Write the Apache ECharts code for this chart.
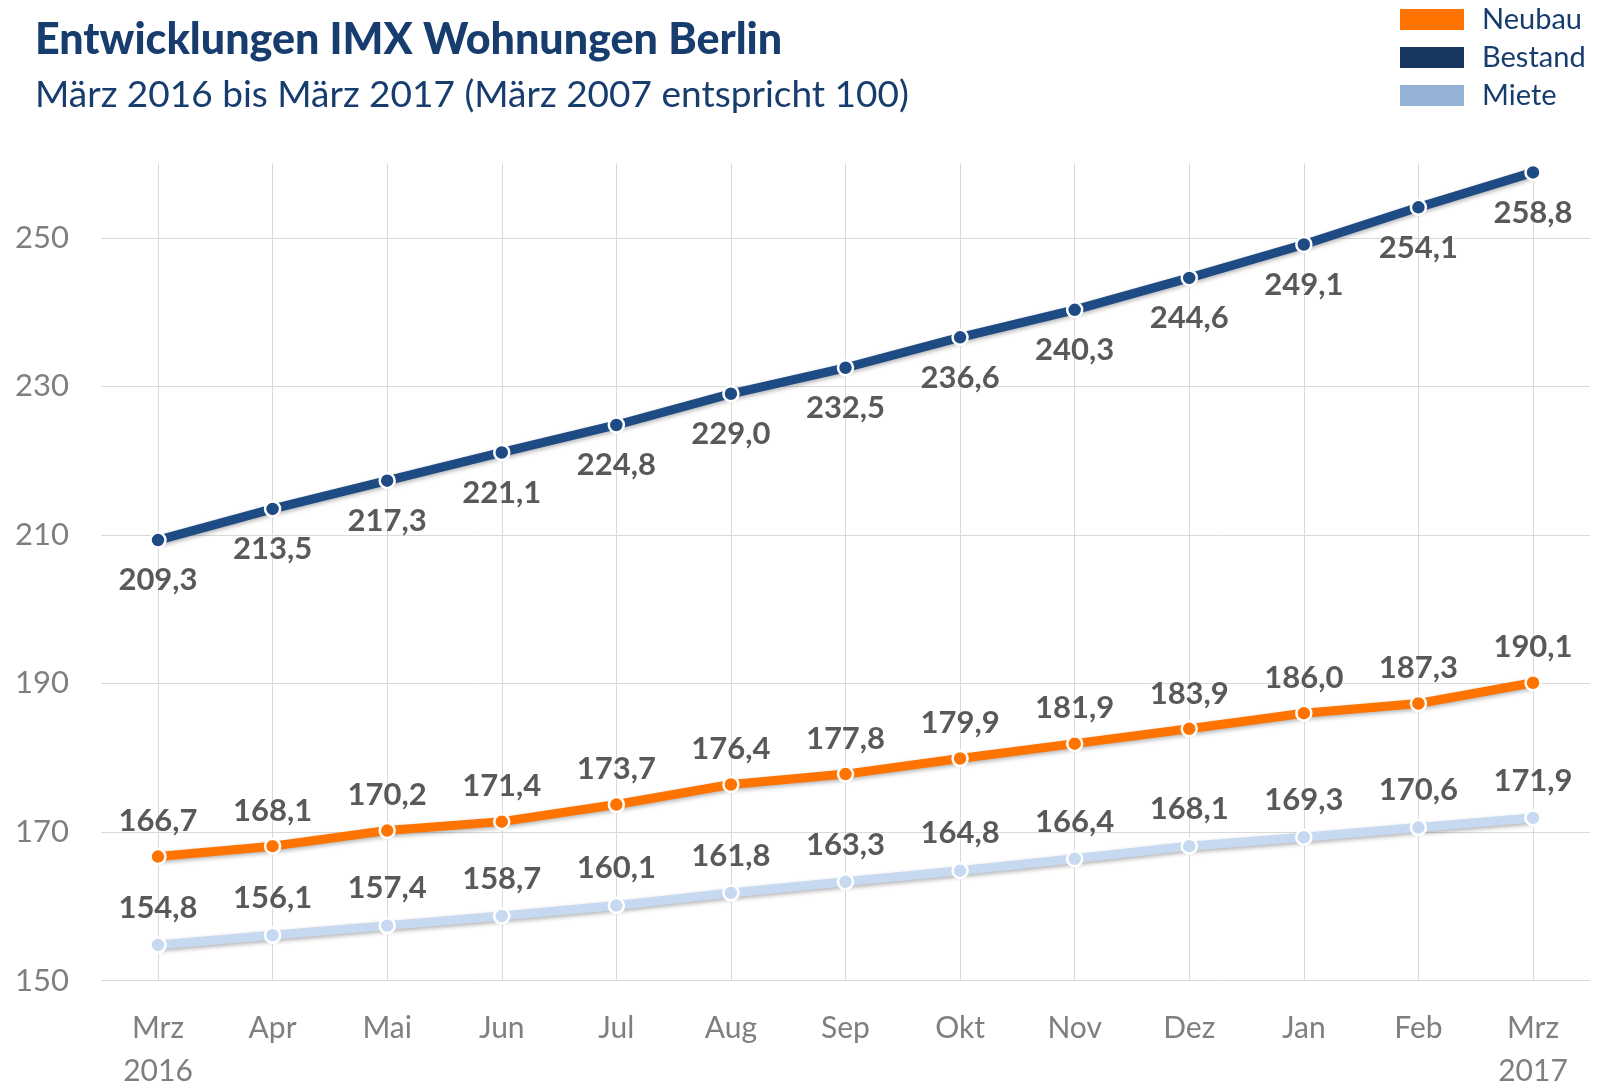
<!DOCTYPE html>
<html>
<head>
<meta charset="utf-8">
<script src="https://cdn.jsdelivr.net/npm/echarts@6/dist/echarts.min.js"></script>
<style>
  html, body { margin: 0; padding: 0; background: #fff; }
  #chart { width: 1600px; height: 1086px; }
</style>
</head>
<body>
<div id="chart"></div>
<script>
var months = ["Mrz\n2016", "Apr", "Mai", "Jun", "Jul", "Aug", "Sep", "Okt", "Nov", "Dez", "Jan", "Feb", "Mrz\n2017"];
var neubau = [166.7, 168.1, 170.2, 171.4, 173.7, 176.4, 177.8, 179.9, 181.9, 183.9, 186.0, 187.3, 190.1];
var bestand = [209.3, 213.5, 217.3, 221.1, 224.8, 229.0, 232.5, 236.6, 240.3, 244.6, 249.1, 254.1, 258.8];
var miete = [154.8, 156.1, 157.4, 158.7, 160.1, 161.8, 163.3, 164.8, 166.4, 168.1, 169.3, 170.6, 171.9];

function init_imx_chart(container) {
  var myChart = echarts.init(document.getElementById(container));
  var font = "Lato";
  var fmt = function (p) {
    return p.value.toFixed(1).replace(".", ",");
  };
  var labelStyle = {
    show: true,
    formatter: fmt,
    fontFamily: font,
    fontWeight: "bold",
    fontSize: 31,
    color: "#595959",
  };
  var lineShadow = {
    shadowBlur: 4,
    shadowColor: "rgba(0,0,0,0.3)",
    shadowOffsetY: 2,
  };

  var option = {
    animation: false,
    title: {
      text: "Entwicklungen IMX Wohnungen Berlin",
      subtext: "März 2016 bis März 2017 (März 2007 entspricht 100)",
      left: 30,
      top: 14,
      itemGap: 15,
      textStyle: {
        fontFamily: font,
        fontWeight: 900,
        fontSize: 43,
        color: "#173c6e",
      },
      subtextStyle: {
        fontFamily: font,
        fontSize: 37,
        color: "#173c6e",
      },
    },
    legend: {
      orient: "vertical",
      left: 1398,
      top: 5,
      padding: 0,
      itemWidth: 66,
      itemHeight: 23,
      itemGap: 9,
      icon: "rect",
      textStyle: {
        fontFamily: font,
        fontSize: 29,
        color: "#173c6e",
        padding: [0, 0, 0, 12],
      },
      data: [
        { name: "Neubau", itemStyle: { color: "#ff7300" } },
        { name: "Bestand", itemStyle: { color: "#17375e" } },
        { name: "Miete", itemStyle: { color: "#95b3d7" } },
      ],
    },
    grid: [
      // plot area for the series (max 260)
      { left: 158, right: 67, top: 163.5, bottom: 105.4, outerBoundsMode: "none" },
      // wider area for the horizontal gridlines (max 250)
      { left: 101, right: 10, top: 237.8, bottom: 105.4, outerBoundsMode: "none" },
    ],
    xAxis: [
      {
        gridIndex: 0,
        type: "category",
        boundaryGap: false,
        data: months,
        axisLine: { show: false },
        axisTick: { show: false },
        splitLine: { show: true, lineStyle: { color: "#d9d9d9", width: 1 } },
        axisLabel: {
          margin: 26,
          fontFamily: font,
          fontSize: 30,
          lineHeight: 43,
          color: "#7f7f7f",
        },
      },
      {
        gridIndex: 1,
        type: "category",
        data: months,
        show: false,
      },
    ],
    yAxis: [
      {
        gridIndex: 0,
        type: "value",
        min: 150,
        max: 260,
        show: false,
      },
      {
        gridIndex: 1,
        type: "value",
        min: 150,
        max: 250,
        interval: 20,
        axisLine: { show: false },
        axisTick: { show: false },
        splitLine: { lineStyle: { color: "#d9d9d9", width: 1 } },
        axisLabel: {
          margin: 32,
          fontFamily: font,
          fontSize: 31,
          color: "#7f7f7f",
        },
      },
    ],
    series: [
      {
        name: "Neubau",
        type: "line",
        data: neubau,
        symbol: "circle",
        symbolSize: 15,
        lineStyle: Object.assign({ color: "#ff7300", width: 9 }, lineShadow),
        itemStyle: { color: "#ff7300", borderColor: "#fff", borderWidth: 2.5 },
        label: Object.assign({ position: "top", distance: 11 }, labelStyle),
        z: 3,
      },
      {
        name: "Bestand",
        type: "line",
        data: bestand,
        symbol: "circle",
        symbolSize: 15,
        lineStyle: Object.assign({ color: "#1f4b85", width: 9 }, lineShadow),
        itemStyle: { color: "#1f4b85", borderColor: "#fff", borderWidth: 2.5 },
        label: Object.assign({ position: "bottom", distance: 16 }, labelStyle),
        z: 3,
      },
      {
        name: "Miete",
        type: "line",
        data: miete,
        symbol: "circle",
        symbolSize: 15,
        lineStyle: Object.assign({ color: "#c6d9f1", width: 9 }, lineShadow),
        itemStyle: { color: "#c6d9f1", borderColor: "#fff", borderWidth: 2.5 },
        label: Object.assign({ position: "top", distance: 13 }, labelStyle),
        z: 3,
      },
    ],
  };

  myChart.setOption(option);
  window.addEventListener("resize", function () {
    myChart.resize();
  });
}

init_imx_chart("chart");
</script>
</body>
</html>
